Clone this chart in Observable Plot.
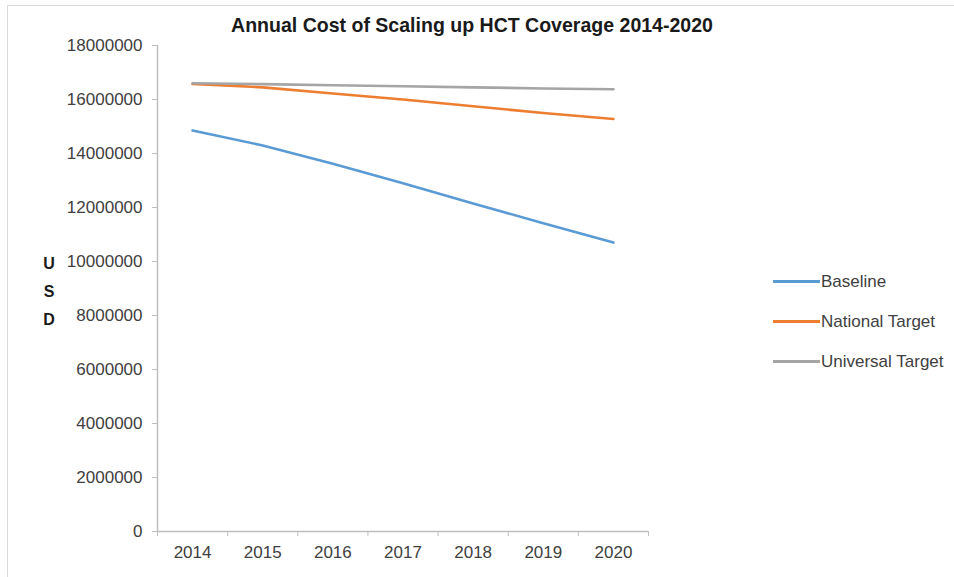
<!DOCTYPE html>
<html><head><meta charset="utf-8">
<script src="https://cdn.jsdelivr.net/npm/d3@7"></script>
<script src="https://cdn.jsdelivr.net/npm/@observablehq/plot@0.6"></script>
<style>
body{margin:0;background:#fff;}
#wrap{position:relative;width:954px;height:577px;overflow:hidden;font-family:"Liberation Sans Narrow","Arial Narrow","Liberation Sans",Arial,sans-serif;}
#frame{position:absolute;left:7px;top:5px;width:960px;height:600px;border-left:1.5px solid #d9d9d9;border-top:1.5px solid #d9d9d9;}
#chart{position:absolute;left:0;top:0;}
#title{position:absolute;left:0;width:944px;top:13px;text-align:center;font-weight:bold;font-size:21px;color:#1a1a1a;transform:scaleX(0.93);transform-origin:472px 0;}
#ylab{position:absolute;left:41px;top:250px;width:16px;text-align:center;font-weight:bold;font-size:16px;line-height:28px;color:#1a1a1a;}
#legend{position:absolute;left:773px;top:270px;font-size:17px;color:#404040;}
.item{position:absolute;left:0;height:20px;white-space:nowrap;}
.item .sw{position:absolute;left:0;top:10px;width:47px;height:3px;}
.item .lb{position:absolute;left:48px;top:0;line-height:24px;}
</style></head><body>
<div id="wrap">
  <div id="frame"></div>
  <div id="chart"></div>
  <div id="title">Annual Cost of Scaling up HCT Coverage 2014-2020</div>
  <div id="ylab">U<br>S<br>D</div>
  <div id="legend"></div>
</div>
<script>
const years = [2014, 2015, 2016, 2017, 2018, 2019, 2020];
const series = ["Baseline", "National Target", "Universal Target"];
const colors = ["#5B9BD5", "#ED7D31", "#A5A5A5"];
const baseline = [14850000, 14300000, 13620000, 12900000, 12150000, 11420000, 10700000];
const national = [16580000, 16450000, 16220000, 16000000, 15750000, 15500000, 15280000];
const universal = [16600000, 16570000, 16530000, 16490000, 16450000, 16410000, 16380000];
const yTicks = [0, 2000000, 4000000, 6000000, 8000000, 10000000, 12000000, 14000000, 16000000, 18000000];

const valuesBySeries = [baseline, national, universal];
const data = [];
series.forEach((s, i) => years.forEach((yr, j) => data.push({series: s, year: yr, value: valuesBySeries[i][j]})));
const boundaries = [years[0] - 0.5, ...years.map(y => y + 0.5)];

const font = '"Liberation Sans Narrow","Arial Narrow","Liberation Sans",Arial,sans-serif';
const chart = Plot.plot({
  width: 954, height: 577,
  marginLeft: 157, marginRight: 306, marginTop: 45, marginBottom: 46,
  style: {fontFamily: font, background: "transparent", overflow: "visible"},
  x: {domain: [years[0] - 0.5, years[years.length - 1] + 0.5]},
  y: {domain: [0, 18000000]},
  color: {domain: series, range: colors},
  marks: [
    Plot.axisY({ticks: yTicks, tickFormat: d3.format("d"), tickSize: 5, tickPadding: 10, label: null, fontSize: 17, stroke: "#bfbfbf", fill: "#404040"}),
    Plot.axisX({ticks: boundaries, tickFormat: () => "", tickSize: 5, label: null, stroke: "#bfbfbf"}),
    Plot.axisX({ticks: years, tickFormat: d => String(d), tickSize: 0, tickPadding: 14, label: null, fontSize: 17, fill: "#404040"}),
    Plot.ruleX([years[0] - 0.5], {stroke: "#bfbfbf", strokeWidth: 1.5}),
    Plot.ruleY([0], {stroke: "#bfbfbf", strokeWidth: 1.5}),
    Plot.lineY(data, {x: "year", y: "value", z: "series", stroke: "series", strokeWidth: 2.6})
  ]
});
document.getElementById("chart").appendChild(chart);

const legend = document.getElementById("legend");
series.forEach((s, i) => {
  const it = document.createElement("div");
  it.className = "item";
  it.style.top = (i * 40) + "px";
  it.innerHTML = `<div class="sw" style="background:${colors[i]}"></div><div class="lb">${s}</div>`;
  legend.appendChild(it);
});
</script>
</body></html>
